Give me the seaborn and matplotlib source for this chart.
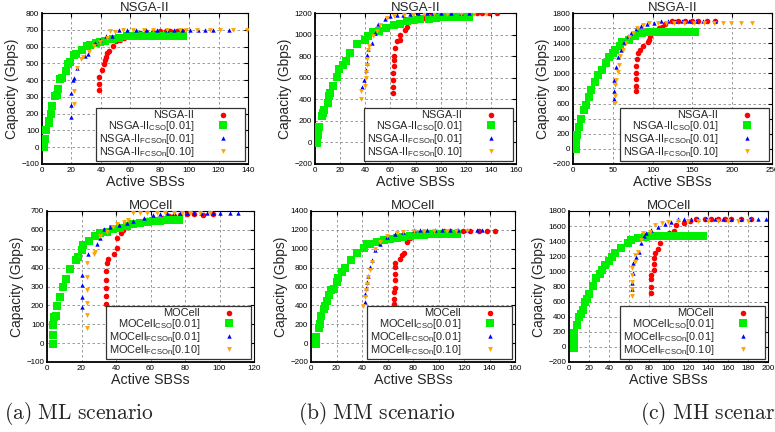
import numpy as np
import pandas as pd
import seaborn as sns
import matplotlib.pyplot as plt
from matplotlib.lines import Line2D

# (a) ML scenario - NSGA-II
ml_nsga_base_x = [39, 39, 39, 41, 42, 43, 43.5, 44.5, 45.5, 48, 50.5, 53, 55.5, 58.5, 62, 66.5, 71, 75.5, 80, 84, 87, 91.5, 95]
ml_nsga_base_y = [343, 378, 418, 458, 496, 520, 538, 562, 574, 605, 631, 641, 651, 661, 673, 679, 685, 689, 691, 691, 691, 693, 695]
ml_nsga_cso_x = [1.5, 2, 3, 4.5, 5, 6, 7, 8.5, 10, 11, 12.5, 13.5, 16.5, 18, 19, 22, 23, 27, 30.5, 32.5, 36.5, 39.5, 43, 48, 52, 57.5, 62, 66, 70, 74, 78, 82, 86, 90, 93, 96]
ml_nsga_cso_y = [0, 48, 100, 147, 159, 197, 247, 303, 313, 347, 406, 412, 452, 496, 508, 548, 556, 578, 602, 612, 622, 628, 632, 648, 652, 660, 662, 662, 662, 662, 662, 662, 662, 662, 662, 662]
ml_nsga_f01_x = [20, 20, 20, 21, 21.5, 24, 29, 31.5, 36, 39.5, 43.5, 47.5, 52, 57.5, 64, 71, 78, 85, 90, 95, 100.5, 106, 111, 116.5, 127]
ml_nsga_f01_y = [179, 249, 322, 398, 412, 472, 542, 556, 622, 641, 661, 661, 697, 697, 697, 697, 697, 697, 697, 697, 697, 697, 697, 697, 697]
ml_nsga_f10_x = [21.5, 21.5, 24, 26.5, 28, 32, 35, 39.5, 44, 46, 49.5, 55, 62, 69, 75.5, 85, 94, 98, 105, 114, 121, 130, 139]
ml_nsga_f10_y = [259, 333, 472, 526, 538, 566, 606, 626, 651, 691, 689, 697, 699, 699, 699, 699, 699, 699, 699, 699, 699, 699, 699]

# (b) MM scenario - NSGA-II
mm_nsga_base_x = [62, 62, 62, 62, 62.5, 63, 63, 63.5, 65, 67.5, 67.5, 71.5, 73, 78.5, 81, 86.5, 92, 97, 102, 108, 113, 118.5, 124, 129, 133, 138.5, 144.5]
mm_nsga_base_y = [456, 518, 580, 642, 704, 760, 803, 874, 936, 952, 995, 1045, 1069, 1122, 1138, 1153, 1172, 1186, 1192, 1198, 1198, 1198, 1198, 1198, 1198, 1198, 1198]
mm_nsga_cso_x = [1.5, 2.5, 3.5, 5.5, 6, 7.5, 10, 11.5, 12, 14.5, 17.5, 19.5, 22.5, 25, 28, 33.5, 39.5, 42.5, 46.5, 51, 56.5, 62.5, 67.5, 73, 78.5, 83.5, 90.5, 96, 101, 106.5, 112, 116, 122.5]
mm_nsga_cso_y = [-8, 69, 146, 245, 270, 301, 369, 431, 456, 524, 602, 680, 720, 757, 828, 915, 952, 989, 1023, 1029, 1057, 1085, 1100, 1122, 1138, 1144, 1144, 1156, 1162, 1162, 1162, 1162, 1162]
mm_nsga_f01_x = [37.5, 39, 40.5, 41, 41.5, 42.5, 45, 47.5, 50.5, 55.5, 59.5, 65, 70, 75.5, 82, 89, 94, 100, 108, 116, 122.5]
mm_nsga_f01_y = [518, 580, 667, 735, 812, 865, 921, 1014, 1100, 1147, 1168, 1183, 1186, 1192, 1198, 1198, 1198, 1198, 1198, 1198, 1198]
mm_nsga_f10_x = [37, 37, 39.5, 40.5, 40.5, 41, 41, 42.5, 43, 46.5, 49, 51.5, 57, 62.5, 70.5, 78, 86.5, 95, 105, 116, 126.5, 136]
mm_nsga_f10_y = [400, 481, 524, 595, 657, 719, 772, 858, 890, 983, 1029, 1091, 1153, 1168, 1183, 1186, 1192, 1192, 1192, 1192, 1192, 1192]

# (c) MH scenario - NSGA-II
mh_nsga_base_x = [79, 79, 79, 79, 79, 80.5, 81.5, 84.5, 88.5, 94, 95, 97, 101, 107.5, 111.5, 116, 124, 132.5, 141, 149, 157.5, 168, 178]
mh_nsga_base_y = [773, 836, 925, 1004, 1102, 1190, 1270, 1305, 1358, 1411, 1447, 1500, 1580, 1602, 1615, 1660, 1690, 1690, 1690, 1690, 1690, 1690, 1690]
mh_nsga_cso_x = [4, 4, 5, 7, 9.5, 13.5, 16.5, 19.5, 23, 28, 32, 36.5, 41.5, 45.5, 50, 53, 59.5, 61.5, 70, 78, 86.5, 95, 103.5, 111.5, 120, 128.5, 137, 145, 153.5]
mh_nsga_cso_y = [-4, 83, 184, 295, 392, 516, 582, 693, 782, 892, 981, 1048, 1136, 1216, 1270, 1314, 1358, 1411, 1447, 1491, 1535, 1544, 1553, 1553, 1553, 1553, 1553, 1553, 1553]
mh_nsga_f01_x = [51, 51, 52, 54, 56, 60.5, 64.5, 68.5, 73, 79, 85.5, 93.5, 102, 110.5, 119, 128, 137, 145.5, 154.5, 163, 179]
mh_nsga_f01_y = [660, 773, 914, 1083, 1216, 1314, 1411, 1491, 1535, 1588, 1624, 1660, 1669, 1690, 1690, 1690, 1690, 1690, 1690, 1690, 1690]
mh_nsga_f10_x = [52.5, 52.5, 52.5, 54, 56, 58, 59.5, 62.5, 66.5, 70.5, 75, 81, 87.5, 96, 106.5, 116.5, 127, 139.5, 152.5, 165, 177.5, 188, 198.5, 211, 224.5]
mh_nsga_f10_y = [607, 695, 850, 916, 1013, 1115, 1225, 1314, 1402, 1482, 1535, 1602, 1646, 1669, 1672, 1672, 1672, 1672, 1672, 1672, 1672, 1672, 1672, 1672, 1672]

# (a) ML scenario - MOCell
ml_moc_base_x = [34, 34, 34, 34, 34, 34.5, 35.5, 39, 40.5, 40.5, 43, 44, 46.5, 49, 52, 58, 63.5, 67.5, 70.5, 73.5, 77, 81, 85, 90.5, 96.5]
ml_moc_base_y = [206, 248, 294, 337, 383, 425, 448, 471, 506, 556, 586, 598, 616, 630, 639, 651, 656, 665, 672, 676, 680, 683, 683, 680, 683]
ml_moc_cso_x = [3.5, 3.5, 3.5, 4, 5, 6, 7.5, 9.5, 11, 13.5, 17, 18, 20.5, 21, 24.5, 28, 30.5, 34.5, 38.5, 42.5, 46.5, 50, 54, 58, 61.5, 65.5, 69.5, 73.5, 76.5]
ml_moc_cso_y = [-6, 42, 95, 139, 142, 195, 245, 295, 342, 395, 443, 455, 496, 519, 542, 567, 581, 589, 602, 612, 619, 630, 637, 642, 648, 648, 651, 651, 651]
ml_moc_f01_x = [20.5, 20.5, 20.5, 20.5, 24, 29, 31, 33, 36.5, 41.5, 46.5, 50, 56, 61.5, 65.5, 69.5, 73.5, 77, 81, 85, 89, 93, 96.5, 100, 106, 111]
ml_moc_f01_y = [192, 245, 306, 359, 474, 524, 559, 602, 616, 625, 637, 648, 661, 678, 683, 687, 687, 687, 687, 687, 687, 687, 687, 687, 687, 687]
ml_moc_f10_x = [23, 23, 23, 23, 23, 23, 27, 28, 31, 34.5, 38.5, 40.5, 44.5, 47, 50, 54, 58, 63.5, 68.5, 73.5, 78, 83, 88.5, 94.5]
ml_moc_f10_y = [81, 147, 215, 284, 351, 422, 474, 483, 567, 589, 616, 630, 642, 650, 687, 690, 690, 690, 690, 690, 690, 690, 690, 690]

# (b) MM scenario - MOCell
mm_moc_base_x = [65, 65, 65, 65.5, 66, 66, 66, 66, 69.5, 71.5, 73, 75, 78, 83, 88.5, 93.5, 98.5, 104, 109, 114.5, 119.5, 125, 131.5, 138, 144.5]
mm_moc_base_y = [411, 471, 542, 588, 665, 736, 807, 850, 896, 931, 956, 1072, 1118, 1143, 1161, 1178, 1178, 1189, 1189, 1189, 1189, 1189, 1189, 1189, 1189]
mm_moc_cso_x = [4, 4, 6, 7, 8, 10, 11, 12.5, 14, 15.5, 18, 20, 21, 24.5, 27, 31, 36, 41.5, 44, 46.5, 51.5, 57, 62, 67.5, 72.5, 78, 83, 88.5, 93.5, 98.5, 104, 109, 114.5]
mm_moc_cso_y = [-12, 65, 164, 207, 285, 366, 391, 444, 508, 568, 578, 648, 694, 754, 800, 878, 956, 1012, 1047, 1054, 1072, 1089, 1100, 1118, 1125, 1132, 1143, 1150, 1154, 1154, 1154, 1154, 1154]
mm_moc_f01_x = [42, 42.5, 43.5, 44, 45, 46.5, 48, 50.5, 54.5, 59.5, 66, 72.5, 80.5, 85.5, 91, 97, 102.5, 109, 115.5, 122, 130, 134.5]
mm_moc_f01_y = [437, 524, 588, 648, 708, 807, 878, 991, 1054, 1125, 1161, 1178, 1196, 1200, 1200, 1200, 1200, 1200, 1200, 1200, 1200, 1200]
mm_moc_f10_x = [41, 42.5, 43.5, 44, 44.5, 46, 48, 50.5, 54.5, 59.5, 67.5, 72.5, 80.5, 88.5, 96.5, 106.5, 114, 122]
mm_moc_f10_y = [390, 489, 559, 630, 701, 772, 860, 1001, 1072, 1132, 1168, 1178, 1189, 1189, 1189, 1189, 1189, 1189]

# (c) MH scenario - MOCell
mh_moc_base_x = [82, 82, 82, 82, 85.5, 85.5, 85.5, 86, 89.5, 91, 101, 106, 108, 115.5, 121.5, 128, 136.5, 143, 149.5, 156.5, 163, 173, 183]
mh_moc_base_y = [716, 796, 894, 951, 1017, 1097, 1172, 1238, 1291, 1380, 1513, 1539, 1614, 1636, 1672, 1690, 1690, 1690, 1690, 1690, 1690, 1690, 1690]
mh_moc_cso_x = [5.5, 5.5, 5.5, 8.5, 10.5, 12.5, 14, 16.5, 18.5, 20, 24, 27.5, 31, 33, 36, 40, 43, 46, 52.5, 59.5, 62.5, 69.5, 76, 82.5, 89.5, 96, 103, 109.5, 116, 123, 129.5, 134.5]
mh_moc_cso_y = [-14, 88, 185, 287, 398, 442, 495, 597, 641, 698, 804, 906, 963, 1016, 1083, 1141, 1194, 1238, 1305, 1380, 1415, 1438, 1460, 1468, 1468, 1468, 1468, 1468, 1468, 1468, 1468, 1468]
mh_moc_f01_x = [63.5, 63.5, 64.5, 64.5, 67.5, 70, 72, 75.5, 77.5, 82.5, 89.5, 96, 103, 109.5, 116, 123, 129.5, 138, 146.5, 155, 163, 173, 181.5, 190, 197.5]
mh_moc_f01_y = [761, 849, 973, 1114, 1194, 1260, 1371, 1468, 1504, 1548, 1593, 1628, 1659, 1690, 1690, 1690, 1690, 1690, 1690, 1690, 1690, 1690, 1690, 1690, 1690]
mh_moc_f10_x = [63.5, 63.5, 63.5, 63.5, 63.5, 66, 66.5, 69.5, 72.5, 74.5, 81, 86, 93, 99.5, 109.5, 119.5, 129.5, 139.5, 149.5, 160, 170, 180]
mh_moc_f10_y = [671, 761, 862, 951, 1039, 1127, 1215, 1260, 1415, 1504, 1526, 1614, 1636, 1659, 1665, 1672, 1672, 1672, 1672, 1672, 1672, 1672]

captions = ['(a) ML scenario', '(b) MM scenario', '(c) MH scenario']

sns.set_style('white')
plt.rcParams['font.family'] = ['Liberation Sans', 'DejaVu Sans']
plt.rcParams['mathtext.fontset'] = 'custom'
plt.rcParams['mathtext.rm'] = 'Liberation Sans'

colors = ['#ff0000', '#00ee00', '#0000ff', '#ffa500']
markers = ['o', 's', '^', 'v']
sizes = [16, 26, 10, 12]


def draw_panel(rect, algo, series, xmax, xstep, ymin, ymax, ystep):
    l, r, t, b = rect
    ax = fig.add_axes([l / 775, 1 - b / 432, (r - l) / 775, (b - t) / 432])
    for i, (xs, ys) in enumerate(series):
        df = pd.DataFrame({'x': xs, 'y': ys})
        sns.scatterplot(data=df, x='x', y='y', ax=ax, color=colors[i], marker=markers[i],
                        s=sizes[i], linewidth=0, legend=False, zorder=3 + i)
    ax.set_xlim(0, xmax)
    ax.set_ylim(ymin, ymax)
    ax.set_xticks(np.arange(0, xmax + 1, xstep))
    ax.set_yticks(np.arange(ymin, ymax + 1, ystep))
    ax.grid(True, color='#8c8c8c', linestyle=(0, (3, 3)), linewidth=0.6)
    ax.tick_params(direction='in', length=3, labelsize=5.8, pad=2, top=True, right=True, colors='black')
    for s in ax.spines.values():
        s.set_color('black')
        s.set_linewidth(0.8)
    ax.spines['left'].set_linewidth(1.3)
    ax.spines['bottom'].set_linewidth(1.3)
    ax.set_xlabel('Active SBSs', fontsize=10.3, labelpad=1)
    ax.set_ylabel('Capacity (Gbps)', fontsize=10, labelpad=2)
    ax.set_title(algo, fontsize=9.5, pad=1.5)
    labels = [algo,
              algo + r'$_{\mathrm{CSO}}$[0.01]',
              algo + r'$_{\mathrm{FCSOn}}$[0.01]',
              algo + r'$_{\mathrm{FCSOn}}$[0.10]']
    handles = [Line2D([], [], ls='', marker=markers[i], color=colors[i], markeredgewidth=0,
                      markersize=np.sqrt(sizes[i])) for i in range(4)]
    leg = ax.legend(handles, labels, loc='lower right', fontsize=7.9, markerfirst=False,
                    frameon=True, fancybox=False, framealpha=1, edgecolor='#333333',
                    borderpad=0.25, labelspacing=-0.12, handlelength=3.6, handletextpad=0.8,
                    borderaxespad=0.25)
    leg.get_frame().set_linewidth(0.9)
    leg.set_zorder(10)
    return ax


fig = plt.figure(figsize=(7.75, 4.32), dpi=100)

draw_panel((42, 248, 13, 164), 'NSGA-II',
           [(ml_nsga_base_x, ml_nsga_base_y), (ml_nsga_cso_x, ml_nsga_cso_y),
            (ml_nsga_f01_x, ml_nsga_f01_y), (ml_nsga_f10_x, ml_nsga_f10_y)],
           140, 20, -100, 800, 100)
draw_panel((315, 516, 13, 164), 'NSGA-II',
           [(mm_nsga_base_x, mm_nsga_base_y), (mm_nsga_cso_x, mm_nsga_cso_y),
            (mm_nsga_f01_x, mm_nsga_f01_y), (mm_nsga_f10_x, mm_nsga_f10_y)],
           160, 20, -200, 1200, 200)
draw_panel((573, 772, 13, 164), 'NSGA-II',
           [(mh_nsga_base_x, mh_nsga_base_y), (mh_nsga_cso_x, mh_nsga_cso_y),
            (mh_nsga_f01_x, mh_nsga_f01_y), (mh_nsga_f10_x, mh_nsga_f10_y)],
           250, 50, -200, 1800, 200)
draw_panel((47, 254, 211, 362), 'MOCell',
           [(ml_moc_base_x, ml_moc_base_y), (ml_moc_cso_x, ml_moc_cso_y),
            (ml_moc_f01_x, ml_moc_f01_y), (ml_moc_f10_x, ml_moc_f10_y)],
           120, 20, -100, 700, 100)
draw_panel((311, 515, 211, 362), 'MOCell',
           [(mm_moc_base_x, mm_moc_base_y), (mm_moc_cso_x, mm_moc_cso_y),
            (mm_moc_f01_x, mm_moc_f01_y), (mm_moc_f10_x, mm_moc_f10_y)],
           160, 20, -200, 1400, 200)
draw_panel((569, 768, 211, 362), 'MOCell',
           [(mh_moc_base_x, mh_moc_base_y), (mh_moc_cso_x, mh_moc_cso_y),
            (mh_moc_f01_x, mh_moc_f01_y), (mh_moc_f10_x, mh_moc_f10_y)],
           200, 20, -200, 1800, 200)

for cx, cap in zip([4, 298, 640], captions):
    fig.text(cx / 775, 1 - 419 / 432, r'$\mathrm{' + cap.replace(' ', r'\ ') + '}$',
             fontsize=15.5, math_fontfamily='cm', ha='left', va='baseline')

fig.savefig('out.png', dpi=100)
